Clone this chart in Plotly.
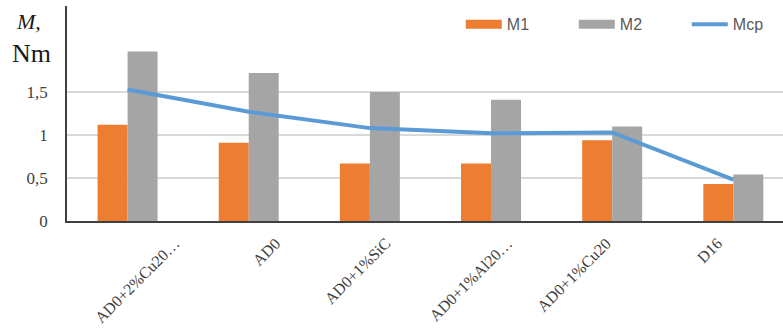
import plotly.graph_objects as go

categories = ["AD0+2%Cu20…", "AD0", "AD0+1%SiC", "AD0+1%Al20…", "AD0+1%Cu20", "D16"]
m1 = [1.12, 0.91, 0.67, 0.67, 0.94, 0.43]
m2 = [1.97, 1.72, 1.50, 1.41, 1.10, 0.54]
mcp = [1.53, 1.27, 1.08, 1.02, 1.03, 0.48]

y_ticks = [0, 0.5, 1, 1.5]
y_tick_text = ["0", "0,5", "1", "1,5"]

serif = "Liberation Serif, Times New Roman, serif"
colors = {"M1": "#ED7D31", "M2": "#A5A5A5", "Mcp": "#5B9BD5"}

# horizontal nudge (px) of each slanted category label, end of text relative to its category
label_nudge = [58, 38, 27, 27, 5, -5]

fig = go.Figure()
fig.add_trace(go.Bar(x=categories, y=m1, name="M1", showlegend=False,
                     marker=dict(color=colors["M1"], line=dict(width=0))))
fig.add_trace(go.Bar(x=categories, y=m2, name="M2", showlegend=False,
                     marker=dict(color=colors["M2"], line=dict(width=0))))
fig.add_trace(go.Scatter(x=categories, y=mcp, name="Mcp", mode="lines", showlegend=False,
                         line=dict(color=colors["Mcp"], width=4)))

# legend keys: wide flat swatches for the bar series, a thick stroke for the line
for name, width in [("M1", 9), ("M2", 9), ("Mcp", 4)]:
    fig.add_trace(go.Scatter(x=[None], y=[None], name=name, mode="lines",
                             line=dict(color=colors[name], width=width)))

fig.update_layout(
    width=783, height=329,
    margin=dict(l=67, r=0, t=6, b=108, autoexpand=False),
    plot_bgcolor="white", paper_bgcolor="white",
    barmode="group", bargap=0.505, bargroupgap=0,
    showlegend=True,
    legend=dict(orientation="h", x=0.55, xanchor="left", y=0.915, yanchor="middle",
                font=dict(family="Liberation Sans", size=16, color="#595959"),
                bgcolor="rgba(0,0,0,0)", itemwidth=36, entrywidth=62),
    xaxis=dict(range=[-0.5, 5.41], showticklabels=False,
               showline=True, linecolor="#404040", linewidth=1.5, ticks="",
               showgrid=False),
    yaxis=dict(range=[0, 2.5], tickvals=y_ticks, ticktext=y_tick_text,
               tickfont=dict(family=serif, size=17, color="#404040"),
               showgrid=True, gridcolor="#D9D9D9", gridwidth=1.5,
               showline=True, linecolor="#404040", linewidth=1.5,
               ticks="", ticklabelstandoff=14, zeroline=False),
)

# slanted category labels under the axis
for cat, nudge in zip(categories, label_nudge):
    fig.add_annotation(text=cat, x=cat, xref="x", y=0, yref="y",
                       xanchor="right", yanchor="top", xshift=nudge, yshift=-11,
                       textangle=-45, showarrow=False,
                       font=dict(family=serif, size=16, color="#404040"))

fig.add_annotation(text="<i>M,</i>", xref="paper", yref="paper", x=-0.033, y=0.93,
                   xanchor="right", yanchor="middle", showarrow=False,
                   font=dict(family=serif, size=22, color="#1a1a1a"))
fig.add_annotation(text="Nm", xref="paper", yref="paper", x=-0.02, y=0.78,
                   xanchor="right", yanchor="middle", showarrow=False,
                   font=dict(family=serif, size=26, color="#1a1a1a"))

fig.write_html("out.html")
